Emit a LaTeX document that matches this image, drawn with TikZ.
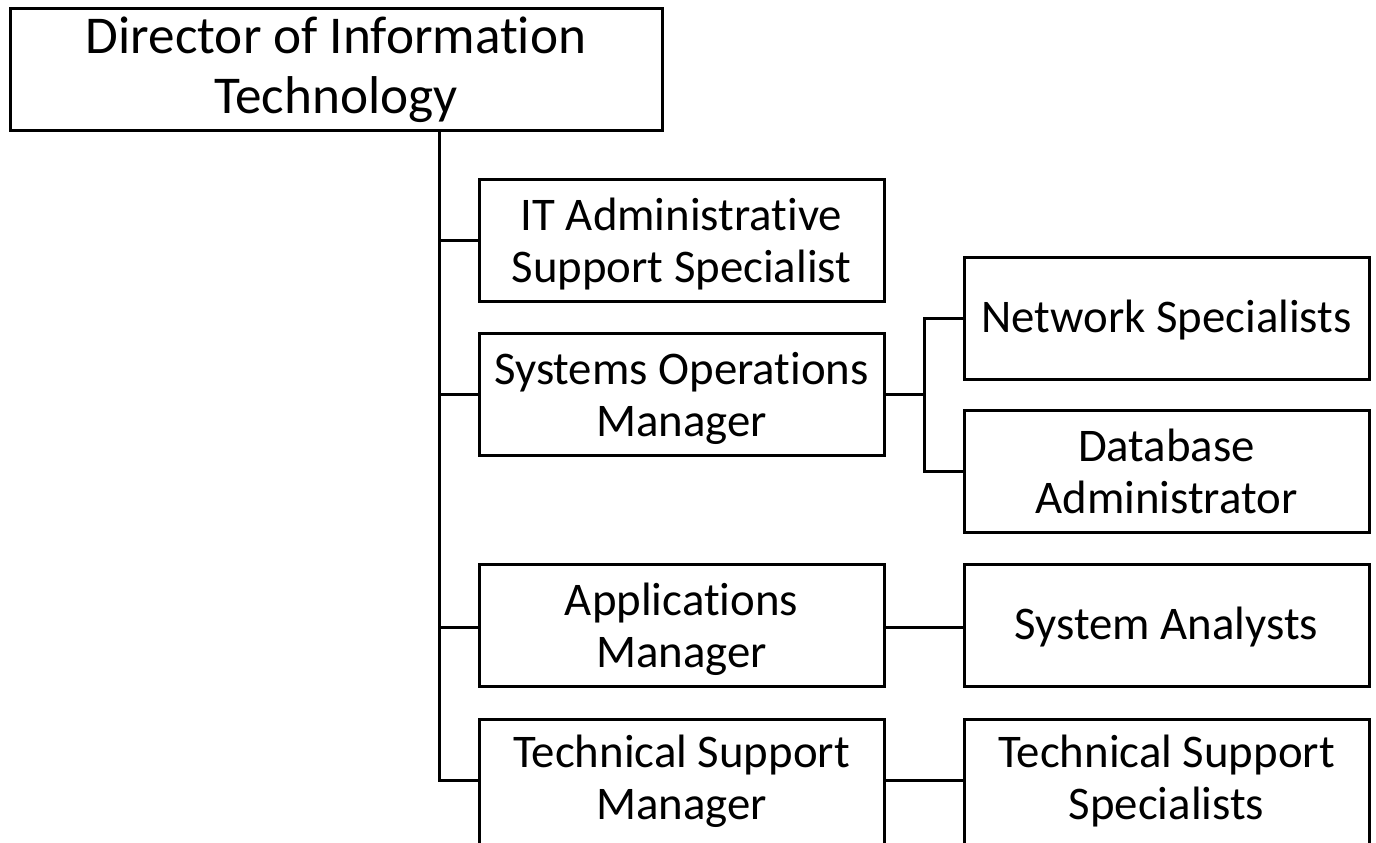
\documentclass[tikz,border=0pt]{standalone}
\usepackage{fontspec}
\setmainfont{Carlito}[Ligatures=NoCommon]
\newcommand\boxtext[2]{\raisebox{-#1}[\height][\depth]{\begin{tabular}{@{}c@{}}#2\end{tabular}}}
\begin{document}
\begin{tikzpicture}[x=0.5pt,y=-0.5pt,
  box/.style={draw=black,line width=1.5pt,inner sep=0pt,align=center,
    minimum width=202.5pt,minimum height=61pt,
    font=\fontsize{23.4}{26}\selectfont},
  topbox/.style={box,minimum width=326pt,minimum height=61pt,
    font=\fontsize{26.6}{30}\selectfont},
  link/.style={draw=black,line width=1.5pt}]
\clip (0,0) rectangle (1376,842);
\useasboundingbox (0,0) rectangle (1376,842);
\node[topbox] (dir) at (336,69) {\boxtext{1pt}{Director of Information\\Technology}};
\node[box] (adm) at (681.5,240.5) {\boxtext{2.8pt}{IT Administrative\\Support Specialist}};
\node[box] (sys) at (681.5,394.5) {\boxtext{2.8pt}{Systems Operations\\Manager}};
\node[box] (app) at (681.5,625) {\boxtext{2.8pt}{Applications\\Manager}};
\node[box,minimum height=64pt] (tsm) at (681.5,783) {\boxtext{0pt}{Technical Support\\Manager}};
\node[box] (net) at (1166.5,318) {\boxtext{1.8pt}{Network Specialists}};
\node[box] (dba) at (1166.5,471.5) {\boxtext{2.8pt}{Database\\Administrator}};
\node[box] (ana) at (1166.5,625) {\boxtext{1.8pt}{System Analysts}};
\node[box,minimum height=64pt] (tss) at (1166.5,783) {\boxtext{0pt}{Technical Support\\Specialists}};
\coordinate (trunk) at (439,0);
\coordinate (fork) at (924,0);
\draw[link] (dir.south -| trunk) |- (tsm.west |- 0,780);
\draw[link] (trunk |- adm.west) -- (adm.west);
\draw[link] (trunk |- sys.west) -- (sys.west);
\draw[link] (trunk |- 0,627) -- (app.west |- 0,627);
\draw[link] (sys.east) -- (fork |- sys.east);
\draw[link] (net.west) -- (fork |- net.west) -- (fork |- dba.west) -- (dba.west);
\draw[link] (app.east |- 0,627) -- (ana.west |- 0,627);
\draw[link] (tsm.east |- 0,780) -- (tss.west |- 0,780);
\end{tikzpicture}
\end{document}
